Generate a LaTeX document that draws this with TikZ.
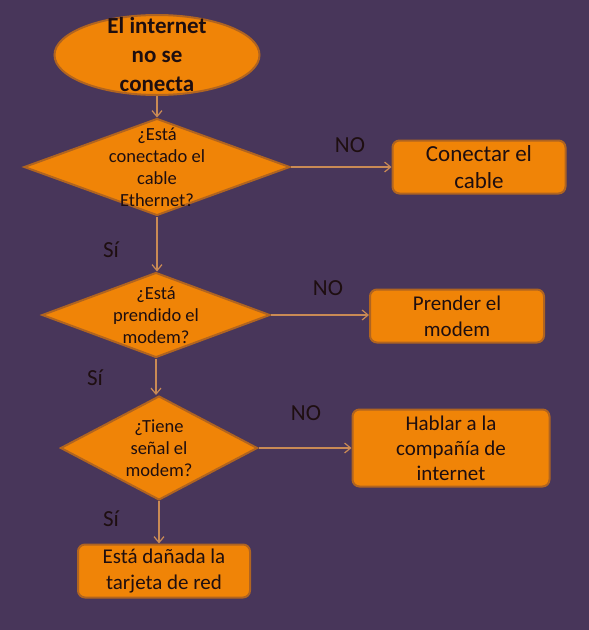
\documentclass[tikz,border=0pt]{standalone}
\usepackage{fontspec}
\setmainfont{Carlito}
\usetikzlibrary{shapes.geometric,arrows.meta}
\definecolor{fondo}{HTML}{48365A}
\definecolor{naranja}{HTML}{F08407}
\definecolor{borde}{HTML}{B06420}
\definecolor{linea}{HTML}{C98A55}
\definecolor{letra}{HTML}{1E0E10}

\begin{document}
\begin{tikzpicture}[x=1pt,y=-1pt,
  forma/.style={draw=borde,fill=naranja,line width=2pt,inner sep=0pt},
  caja/.style={forma,rectangle,rounded corners=7pt,text=letra,align=center,
    font=\fontsize{23}{27}\selectfont},
  decision/.style={forma,diamond},
  texto/.style={text=letra,align=center,font=\fontsize{18.5}{22}\selectfont},
  respuesta/.style={text=letra,font=\fontsize{23}{26}\selectfont},
  flecha/.style={draw=linea,line width=1.2pt,-{Straight Barb[length=6pt,width=10pt]}}]
\fill[fondo] (0,0) rectangle (589,630);
\node [forma,ellipse,minimum width=205pt,minimum height=80pt,
  label={[text=letra,align=center,font=\bfseries\fontsize{23}{29}\selectfont]center:El internet\\no se\\conecta}] (inicio) at (157,55) {};
\node [decision,minimum width=266pt,minimum height=97pt,
  label={[texto]center:¿Está\\conectado el\\cable\\Ethernet?}] (d1) at (157,167) {};
\node [decision,minimum width=228pt,minimum height=85pt,
  label={[texto]center:¿Está\\prendido el\\modem?}] (d2) at (156,315) {};
\node [decision,minimum width=197pt,minimum height=104pt,
  label={[texto]center:¿Tiene\\señal el\\modem?}] (d3) at (159,448) {};
\node [caja,minimum width=173pt,minimum height=53pt] (c1) at (479,167) {Conectar el\\cable};
\node [caja,minimum width=174pt,minimum height=53pt,font=\fontsize{21}{26}\selectfont] (c2) at (457,316) {Prender el\\modem};
\node [caja,minimum width=197pt,minimum height=77pt,font=\fontsize{21}{25}\selectfont] (c3) at (451,448) {Hablar a la\\compañía de\\internet};
\node [caja,minimum width=172pt,minimum height=53pt,font=\fontsize{21}{26}\selectfont] (c4) at (164,571) {Está dañada la\\tarjeta de red};
% respuestas
\node [respuesta] (no1) at (350,145) {NO};
\node [respuesta] (no2) at (328,288) {NO};
\node [respuesta] (no3) at (306,413) {NO};
\node [respuesta] (si1) at (111,250) {Sí};
\node [respuesta] (si2) at (95,378) {Sí};
\node [respuesta] (si3) at (111,519) {Sí};
% conectores
\draw [flecha] (inicio.south) -- (d1.north);
\draw [flecha] (d1.south) -- (d1.south |- d2.north);
\draw [flecha] (d2.south) -- (d2.south |- d3.north);
\draw [flecha] (d3.south) -- (d3.south |- c4.north);
\draw [flecha] (d1.east) -- (d1.east -| c1.west);
\draw [flecha] (d2.east) -- (d2.east -| c2.west);
\draw [flecha] (d3.east) -- (d3.east -| c3.west);
\end{tikzpicture}
\end{document}
